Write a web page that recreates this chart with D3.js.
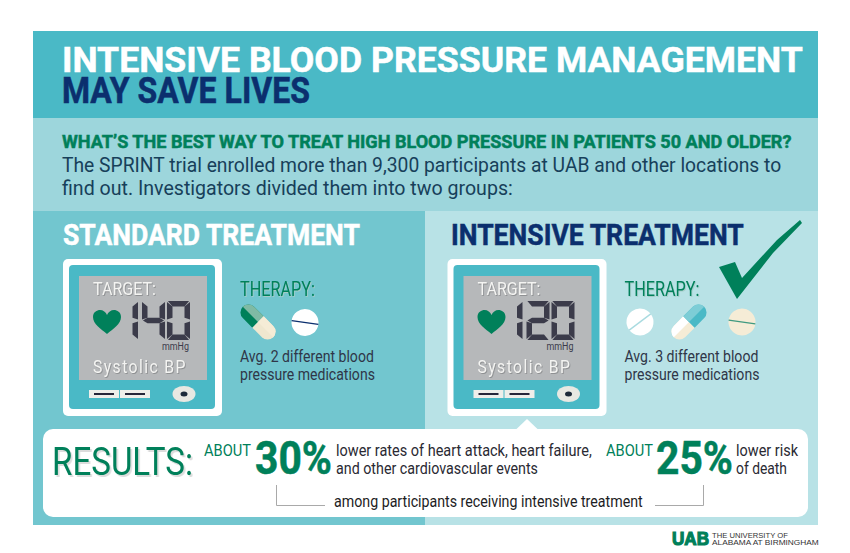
<!DOCTYPE html>
<html>
<head>
<meta charset="utf-8">
<script src="https://cdn.jsdelivr.net/npm/d3@7"></script>
<style>
  html, body { margin: 0; padding: 0; background: #fff; }
  text { font-family: Roboto, sans-serif; }
  text.logo { font-family: "Liberation Sans", sans-serif; }
</style>
</head>
<body>
<div id="chart"></div>
<script>
// Text and values
var titleLines = ["INTENSIVE BLOOD PRESSURE MANAGEMENT", "MAY SAVE LIVES"];
var question = "WHAT\u2019S THE BEST WAY TO TREAT HIGH BLOOD PRESSURE IN PATIENTS 50 AND OLDER?";
var introLines = [
  "The SPRINT trial enrolled more than 9,300 participants at UAB and other locations to",
  "find out. Investigators divided them into two groups:"
];
var treatments = ["STANDARD TREATMENT", "INTENSIVE TREATMENT"];
var targets = [140, 120];
var medCounts = [2, 3];
var results = [30, 25];
var resultNotes = [
  ["lower rates of heart attack, heart failure,", "and other cardiovascular events"],
  ["lower risk", "of death"]
];

var svgWidth = 850;
var svgHeight = 553;

var green = "#00805a";
var navy = "#0b2f6e";
var teal = "#4ab9c6";
var cream = "#f5ecd6";
var ink = "#2f3648";

var svg = d3.select("#chart").append("svg")
  .attr("width", svgWidth).attr("height", svgHeight)
  .style("display", "block");

// panels sit side by side, monitors and therapy blocks shift by a little less
var panelX = d3.scaleBand().domain(treatments).range([33, 818]);
var blockX = d3.scalePoint().domain(treatments).range([0, 384.5]);

// helper, squeezes every line to its width in the picture (no condensed font here)
function label(parent, str, x, y, size, len, fill, weight, spacing, cls) {
  var t = parent.append("text")
    .attr("class", cls || null)
    .attr("font-size", size)
    .attr("font-weight", weight || "normal")
    .attr("fill", fill)
    .style("letter-spacing", (spacing || 0) + "px")
    .text(str);
  if (weight === "bold") {
    t.attr("stroke", fill).attr("stroke-width", 0.5);
  }
  var natural = t.node().getComputedTextLength();
  t.attr("transform", `translate(${x}, ${y}) scale(${len / natural}, 1)`);
  return t;
}

// background bands
svg.append("rect").attr("x", 33).attr("y", 31).attr("width", 785).attr("height", 87).attr("fill", teal);
svg.append("rect").attr("x", 33).attr("y", 118).attr("width", 785).attr("height", 93).attr("fill", "#9dd6dc");
svg.selectAll("rect.panel")
  .data(treatments)
  .enter().append("rect")
  .attr("class", "panel")
  .attr("x", d => panelX(d))
  .attr("y", 211)
  .attr("width", panelX.bandwidth())
  .attr("height", 314)
  .attr("fill", (d, i) => i === 0 ? "#72c6cf" : "#b8e2e6");

// header
label(svg, titleLines[0], 62, 72, 36, 741, "#fff", "bold");
label(svg, titleLines[1], 62, 103, 36, 248, navy, "bold");
label(svg, question, 62, 148, 18, 730, green, "bold");
label(svg, introLines[0], 62, 172, 20, 720, "#17405a");
label(svg, introLines[1], 62, 195, 20, 451, "#17405a");

// seven segment digit drawing
var segmentsOn = {
  0: "abcdef", 1: "bc", 2: "abged", 3: "abgcd", 4: "fgbc",
  5: "afgcd", 6: "afgedc", 7: "abc", 8: "abcdefg", 9: "abcdfg"
};

function segmentPath(seg, w, h, t) {
  var m = h / 2, g = 0.9;
  var shapes = {
    a: [[g, 0], [w - g, 0], [w - t, t], [t, t]],
    d: [[g, h], [w - g, h], [w - t, h - t], [t, h - t]],
    f: [[0, g], [t, t], [t, m - t / 2], [0, m - g]],
    e: [[0, m + g], [t, m + t / 2], [t, h - t], [0, h - g]],
    b: [[w, g], [w - t, t], [w - t, m - t / 2], [w, m - g]],
    c: [[w, m + g], [w - t, m + t / 2], [w - t, h - t], [w, h - g]],
    g: [[g, m], [t, m - t / 2], [w - t, m - t / 2], [w - g, m], [w - t, m + t / 2], [t, m + t / 2]]
  };
  return d3.line()(shapes[seg]) + "Z";
}

function drawDigits(parent, value, x, y) {
  var w = 23;
  var cursor = x;
  String(value).split("").forEach(function(ch) {
    var narrow = ch === "1";
    var g = parent.append("g").attr("transform", `translate(${narrow ? cursor + 6 - w : cursor}, ${y})`);
    g.selectAll("path")
      .data(segmentsOn[ch].split(""))
      .enter().append("path")
      .attr("d", s => segmentPath(s, w, 39, 5.5))
      .attr("fill", "#3b3b4a");
    cursor += narrow ? 10 : w + 2;
  });
}

var heartPath = "M0,13 C-6,8 -14,3 -14,-4 C-14,-9 -10,-11 -7,-11 C-4,-11 -1,-9 0,-6 C1,-9 4,-11 7,-11 C10,-11 14,-9 14,-4 C14,3 6,8 0,13Z";

function drawCapsule(parent, cx, cy, angle, topDark, topLight, lowDark, lowLight) {
  var g = parent.append("g").attr("transform", `translate(${cx}, ${cy}) rotate(${angle})`);
  var halfLen = 21.5, r = 8;
  g.append("path")
    .attr("d", `M0,${-r} H${-halfLen + r} A${r},${r} 0 0 0 ${-halfLen + r},${r} H0Z`)
    .attr("fill", topDark);
  g.append("path")
    .attr("d", `M0,${-r} H${-halfLen + r} A${r},${r} 0 0 0 ${-halfLen},0 H0Z`)
    .attr("fill", topLight);
  g.append("path")
    .attr("d", `M0,${-r} H${halfLen - r} A${r},${r} 0 0 1 ${halfLen - r},${r} H0Z`)
    .attr("fill", lowDark);
  g.append("path")
    .attr("d", `M0,${-r} H${halfLen - r} A${r},${r} 0 0 1 ${halfLen},0 H0Z`)
    .attr("fill", lowLight);
}

function drawTablet(parent, cx, cy, fill, line, angle) {
  var g = parent.append("g").attr("transform", `translate(${cx}, ${cy}) rotate(${angle})`);
  g.append("circle").attr("r", 13.5).attr("fill", fill);
  g.append("line").attr("x1", -13.5).attr("x2", 13.5)
    .attr("stroke", line).attr("stroke-width", 1.4);
}

// one monitor plus therapy block per treatment
treatments.forEach(function(name, i) {
  var g = svg.append("g").attr("transform", `translate(${blockX(name)}, 0)`);

  g.append("rect").attr("x", 63).attr("y", 259).attr("width", 159).attr("height", 157).attr("rx", 5).attr("fill", "#fff");
  g.append("rect").attr("x", 69).attr("y", 265).attr("width", 146).attr("height", 144).attr("rx", 4).attr("fill", teal);
  g.append("rect").attr("x", 79).attr("y", 276).attr("width", 128).attr("height", 104).attr("fill", "#b6b8ba");

  label(g, "TARGET:", 93, 295, 19, 63, "#f4f4f2")
    .style("filter", "drop-shadow(1px 1px 0 #8f9193)");
  label(g, "Systolic BP", 93, 373, 18, 94, "#f4f4f2", null, 1.6)
    .style("filter", "drop-shadow(1px 1px 0 #8f9193)");
  label(g, "mmHg", 162, 350, 11, 27, "#3b3b4a");

  g.append("path").attr("d", heartPath).attr("transform", "translate(107, 321)").attr("fill", green);
  drawDigits(g, targets[i], 132, 301);

  // buttons
  [89, 120].forEach(function(bx) {
    g.append("rect").attr("x", bx).attr("y", 390).attr("width", 30).attr("height", 8).attr("fill", "#eeeeea");
    g.append("rect").attr("x", bx + 5).attr("y", 393).attr("width", 20).attr("height", 2).attr("fill", "#26263a");
  });
  g.append("ellipse").attr("cx", 184).attr("cy", 394).attr("rx", 11.5).attr("ry", 8).attr("fill", "#e8e8e2");
  g.append("ellipse").attr("cx", 184).attr("cy", 394).attr("rx", 3.5).attr("ry", 2.5).attr("fill", "#1d2a3a");

  // therapy
  label(g, "THERAPY:", 240, 296, 20, 75, green)
    .style("filter", "drop-shadow(1px 1px 0 #a5ccc8)");
  label(g, `Avg. ${medCounts[i]} different blood`, 240, 362, 16, 134, ink);
  label(g, "pressure medications", 240, 380, 16, 135, ink);
});

// panel headings sit after the monitors
label(svg, treatments[0], 63, 245, 30, 297, "#fff", "bold");
label(svg, treatments[1], 451, 245, 30, 293, navy, "bold");

// pills
drawCapsule(svg, 258, 322, 45, green, "#7fbaa4", "#efe7cf", cream);
drawTablet(svg, 305, 322.5, "#fff", navy, 8);
drawTablet(svg, 640, 322, "#fff", "#a9dbe0", -37);
drawCapsule(svg, 689, 322, -45, cream, "#fff", teal, "#7dcdd6");
drawTablet(svg, 742, 322, cream, "#3f9a80", 8);

// check mark
svg.append("path")
  .attr("d", d3.line()([[719, 267], [735, 262], [742, 278], [777, 240], [800, 220], [802, 223], [773, 253], [737, 299]]) + "Z")
  .attr("fill", green);

// results box
svg.append("rect").attr("x", 43).attr("y", 429).attr("width", 765).attr("height", 88).attr("rx", 10).attr("fill", "#fff");
svg.append("path").attr("d", d3.line()([[516, 429.5], [527, 419], [538, 429.5]]) + "Z").attr("fill", "#fff");

label(svg, "RESULTS:", 52, 475, 39, 141, green)
  .style("filter", "drop-shadow(2.5px 2.5px 0 #dcdcdc)");

var aboutX = [204, 606];
var percentX = [255, 656];
var notesX = [336, 736];
var noteLens = [[256, 202], [62, 51]];

results.forEach(function(v, i) {
  label(svg, "ABOUT", aboutX[i], 456, 16, 47, green);
  label(svg, v + "%", percentX[i], 474, 46, 77, green, "bold");
  resultNotes[i].forEach(function(line, j) {
    label(svg, line, notesX[i], 456 + j * 18, 16, noteLens[i][j], "#2a2a33");
  });
});

label(svg, "among participants receiving intensive treatment", 334, 507, 16, 309, "#1d1d24");

[[[276.5, 485], [276.5, 505.5], [325, 505.5]], [[655, 505.5], [703.5, 505.5], [703.5, 485]]].forEach(function(pts) {
  svg.append("path").attr("d", d3.line()(pts)).attr("fill", "none").attr("stroke", "#a9a9a9").attr("stroke-width", 1);
});

// logo
label(svg, "UAB", 672, 545, 18, 37, green, "bold", 0, "logo")
  .attr("stroke-width", 1.2);
label(svg, "THE UNIVERSITY OF", 712, 537.5, 7.5, 76, "#333", null, 0, "logo");
label(svg, "ALABAMA AT BIRMINGHAM", 712, 544.5, 7.5, 107, "#333", null, 0, "logo");
</script>
</body>
</html>
